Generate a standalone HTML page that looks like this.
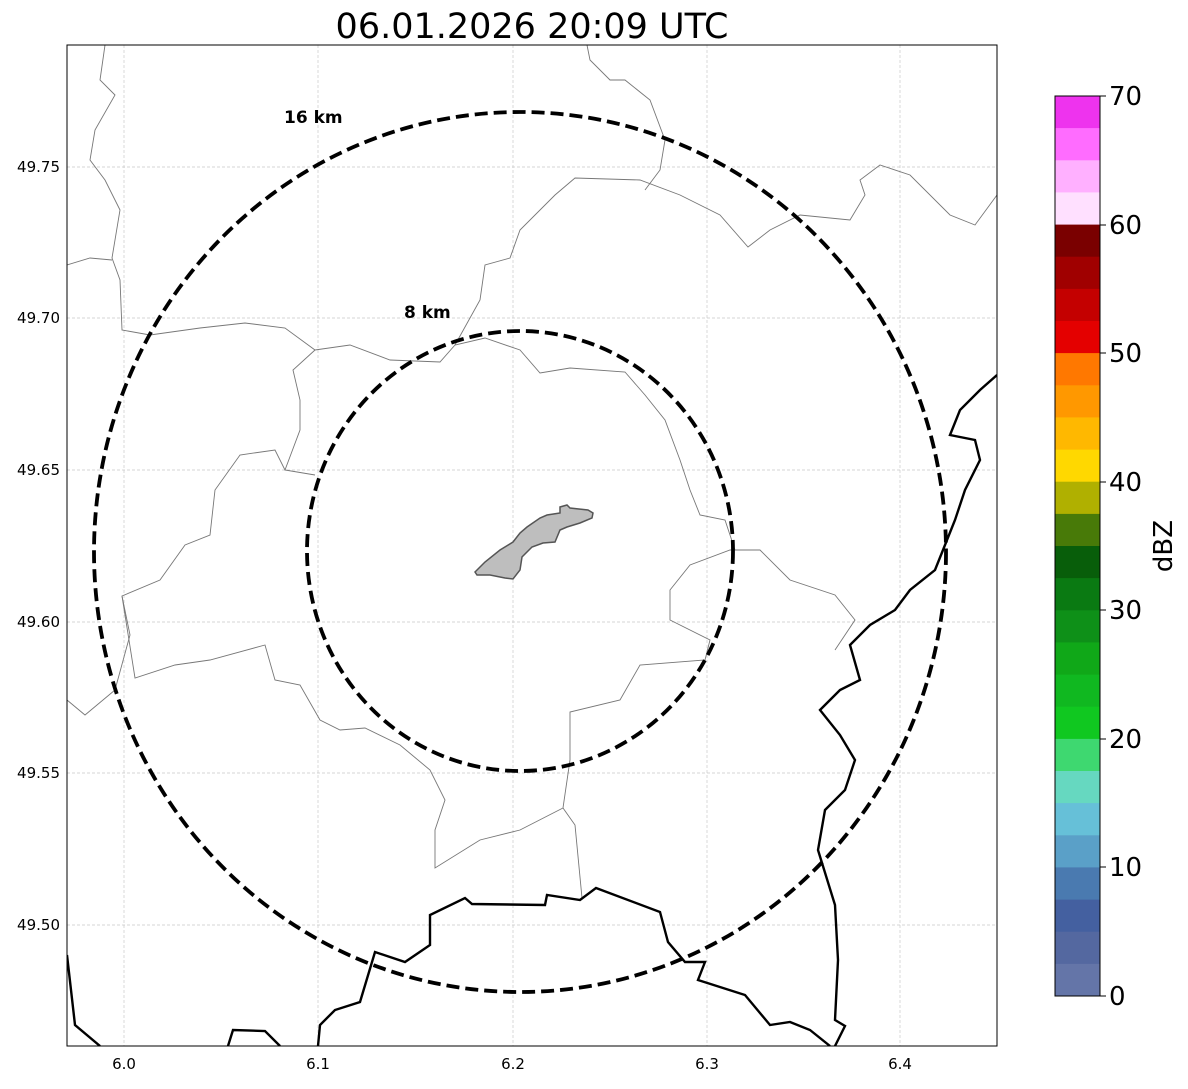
<!DOCTYPE html>
<html><head><style>
body{margin:0;background:#fff;}
svg text{font-family:"DejaVu Sans","Liberation Sans",sans-serif;}
</style></head><body>
<svg width="1188" height="1084" viewBox="0 0 1188 1084" xmlns="http://www.w3.org/2000/svg">
<rect width="1188" height="1084" fill="#fff"/>
<text x="532" y="38" font-size="35" text-anchor="middle">06.01.2026 20:09 UTC</text>
<defs><clipPath id="c"><rect x="67" y="45" width="930" height="1001"/></clipPath></defs>
<g clip-path="url(#c)">
<g stroke="#c8c8c8" stroke-width="0.7" stroke-dasharray="3,2">
<line x1="124" y1="45" x2="124" y2="1046"/><line x1="318" y1="45" x2="318" y2="1046"/><line x1="513" y1="45" x2="513" y2="1046"/><line x1="707" y1="45" x2="707" y2="1046"/><line x1="900" y1="45" x2="900" y2="1046"/>
<line x1="67" y1="167" x2="997" y2="167"/><line x1="67" y1="318" x2="997" y2="318"/><line x1="67" y1="470" x2="997" y2="470"/><line x1="67" y1="622" x2="997" y2="622"/><line x1="67" y1="773" x2="997" y2="773"/><line x1="67" y1="925" x2="997" y2="925"/>
</g>
<g fill="none" stroke="#777" stroke-width="0.9">
<polyline points="105,45 100,80 115,95 95,130 90,160 105,180 120,210 112,258 120,280 122,330 150,335 200,328 245,323 285,328 315,350 350,345 390,360 440,362 455,345 485,338 520,350 540,373 570,368 625,372 645,395 665,420 680,460 690,490 700,515 725,520 735,550"/>
<polyline points="67,265 90,258 112,260"/>
<polyline points="315,350 293,370 300,400 300,430 285,470 315,475"/>
<polyline points="285,470 275,450 240,455 215,490 210,535 185,545 160,580 122,596 130,635 115,690 85,715 67,700"/>
<polyline points="122,596 135,678 175,665 210,660 265,645 275,680 300,685 320,720 340,730 365,728 400,745 430,770 445,800 435,830 435,868 480,840 520,830 563,808 570,760 570,712 620,700 640,665 705,660 710,640 670,620 670,590 690,565 730,550 760,550 790,580 835,595 855,620 835,650"/>
<polyline points="563,808 575,825 582,898"/>
<polyline points="587,45 590,60 610,80 625,80 650,100 665,140 660,170 645,190"/>
<polyline points="455,345 480,300 485,265 510,258 520,230 555,195 575,178 640,180 680,195 720,215 748,247 770,230 800,215 850,220 865,195 860,180 880,165 910,175 950,215 975,225 997,195"/>
</g>
<g fill="none" stroke="#000" stroke-width="2.4">
<polyline points="997,375 980,390 960,410 950,435 975,440 980,460 965,490 955,520 945,545 935,570 910,590 895,610 870,625 850,645 860,680 840,690 820,710 840,735 855,760 845,790 825,810 818,850 835,905 838,960 835,1020 845,1026 835,1046"/>
<polyline points="67,955 75,1025 100,1046"/>
<polyline points="318,1046 320,1025 335,1010 360,1002 375,952 405,962 430,945 430,915 465,898 472,904 545,905 547,895 580,900 596,888 660,912 668,942 685,962 705,962 698,980 745,995 770,1025 790,1022 810,1030 830,1046"/>
<polyline points="228,1046 233,1030 265,1031 280,1046"/>
</g>
<polygon points="475,572 485,562 500,550 513,542 520,533 527,527 540,518 547,515 560,513 560,507 567,505 570,508 588,510 593,513 592,518 580,523 567,527 560,530 555,542 543,543 532,547 522,557 520,570 513,579 505,578 490,575 477,575" fill="#bebebe" stroke="#555" stroke-width="1.5"/>
<ellipse cx="520" cy="552" rx="426" ry="440" fill="none" stroke="#000" stroke-width="3.8" stroke-dasharray="13,6"/>
<ellipse cx="520" cy="551" rx="213" ry="220" fill="none" stroke="#000" stroke-width="3.8" stroke-dasharray="13,6"/>
</g>
<text x="284" y="123" font-size="17" font-weight="bold">16 km</text>
<text x="404" y="318" font-size="17" font-weight="bold">8 km</text>
<rect x="67" y="45" width="930" height="1001" fill="none" stroke="#000" stroke-width="1"/>
<g font-size="15" text-anchor="middle">
<text x="124" y="1069">6.0</text><text x="318" y="1069">6.1</text><text x="513" y="1069">6.2</text><text x="707" y="1069">6.3</text><text x="900" y="1069">6.4</text>
</g>
<g font-size="15" text-anchor="end">
<text x="60" y="172">49.75</text><text x="60" y="323">49.70</text><text x="60" y="475">49.65</text><text x="60" y="627">49.60</text><text x="60" y="778">49.55</text><text x="60" y="930">49.50</text>
</g>
<g>
<rect x="1055" y="96.0" width="45" height="32.6" fill="#ee33ee"/>
<rect x="1055" y="128.1" width="45" height="32.6" fill="#ff6cff"/>
<rect x="1055" y="160.3" width="45" height="32.6" fill="#ffb0ff"/>
<rect x="1055" y="192.4" width="45" height="32.6" fill="#ffe0ff"/>
<rect x="1055" y="224.6" width="45" height="32.6" fill="#7a0000"/>
<rect x="1055" y="256.7" width="45" height="32.6" fill="#a00000"/>
<rect x="1055" y="288.9" width="45" height="32.6" fill="#c40000"/>
<rect x="1055" y="321.0" width="45" height="32.6" fill="#e40000"/>
<rect x="1055" y="353.1" width="45" height="32.6" fill="#ff7800"/>
<rect x="1055" y="385.3" width="45" height="32.6" fill="#ff9800"/>
<rect x="1055" y="417.4" width="45" height="32.6" fill="#ffb800"/>
<rect x="1055" y="449.6" width="45" height="32.6" fill="#ffd800"/>
<rect x="1055" y="481.7" width="45" height="32.6" fill="#b0b000"/>
<rect x="1055" y="513.9" width="45" height="32.6" fill="#487a08"/>
<rect x="1055" y="546.0" width="45" height="32.6" fill="#085e0a"/>
<rect x="1055" y="578.1" width="45" height="32.6" fill="#0a7a12"/>
<rect x="1055" y="610.3" width="45" height="32.6" fill="#0e9018"/>
<rect x="1055" y="642.4" width="45" height="32.6" fill="#10a818"/>
<rect x="1055" y="674.6" width="45" height="32.6" fill="#10b820"/>
<rect x="1055" y="706.7" width="45" height="32.6" fill="#10c820"/>
<rect x="1055" y="738.9" width="45" height="32.6" fill="#3ed870"/>
<rect x="1055" y="771.0" width="45" height="32.6" fill="#66d8c0"/>
<rect x="1055" y="803.1" width="45" height="32.6" fill="#66c0d8"/>
<rect x="1055" y="835.3" width="45" height="32.6" fill="#5aa0c8"/>
<rect x="1055" y="867.4" width="45" height="32.6" fill="#4a7ab0"/>
<rect x="1055" y="899.6" width="45" height="32.6" fill="#4460a0"/>
<rect x="1055" y="931.7" width="45" height="32.6" fill="#5468a0"/>
<rect x="1055" y="963.9" width="45" height="32.1" fill="#6475a8"/>
<rect x="1055" y="96" width="45" height="900" fill="none" stroke="#000" stroke-width="1"/>
</g>
<g font-size="26">
<line x1="1100" y1="96" x2="1106" y2="96" stroke="#000"/><text x="1109" y="105">70</text>
<line x1="1100" y1="225" x2="1106" y2="225" stroke="#000"/><text x="1109" y="234">60</text>
<line x1="1100" y1="353" x2="1106" y2="353" stroke="#000"/><text x="1109" y="362">50</text>
<line x1="1100" y1="482" x2="1106" y2="482" stroke="#000"/><text x="1109" y="491">40</text>
<line x1="1100" y1="610" x2="1106" y2="610" stroke="#000"/><text x="1109" y="619">30</text>
<line x1="1100" y1="739" x2="1106" y2="739" stroke="#000"/><text x="1109" y="748">20</text>
<line x1="1100" y1="867" x2="1106" y2="867" stroke="#000"/><text x="1109" y="876">10</text>
<line x1="1100" y1="996" x2="1106" y2="996" stroke="#000"/><text x="1109" y="1005">0</text>
<text transform="translate(1172,546) rotate(-90)" text-anchor="middle">dBZ</text>
</g>
</svg>
</body></html>
